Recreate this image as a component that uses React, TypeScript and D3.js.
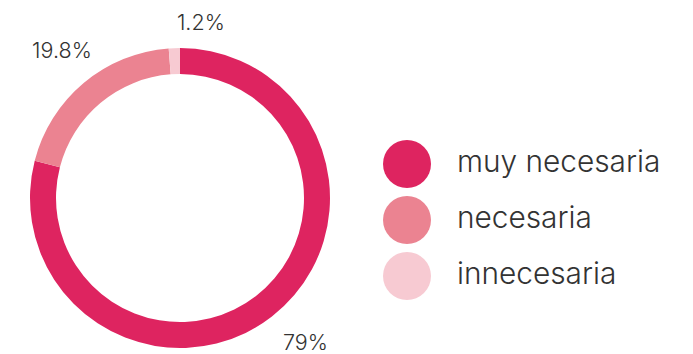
import React from "react";
import * as d3 from "d3";

const categories = ["muy necesaria", "necesaria", "innecesaria"];
const values = [79, 19.8, 1.2];
const valueLabels = ["79%", "19.8%", "1.2%"];
const colors = ["#DE2460", "#EB8391", "#F7CAD2"];

const W = 693;
const H = 354;
const cx = 180;
const cy = 198;
const outerR = 150;
const innerR = 124;
const labelR = 190;
// small layout nudges for the value labels (dx, dy)
const labelNudge: [number, number][] = [
  [9, -6],
  [4, -1.5],
  [28, 14],
];

export default function App() {
  const pie = d3
    .pie<number>()
    .sort(null)
    .value((d) => d)
    .startAngle(0)
    .endAngle(2 * Math.PI);
  const arcs = pie(values);
  const arc = d3.arc<d3.PieArcDatum<number>>().innerRadius(innerR).outerRadius(outerR);
  const labelArc = d3.arc<d3.PieArcDatum<number>>().innerRadius(labelR).outerRadius(labelR);

  const color = d3.scaleOrdinal<string, string>().domain(categories).range(colors);
  const legendY = d3.scalePoint<string>().domain(categories).range([164, 276]);

  const font = "Inter, 'Open Sans', sans-serif";

  return (
    <svg
      width={W}
      height={H}
      style={{ position: "absolute", left: 0, top: 0, background: "#fff" }}
    >
      <g transform={`translate(${cx},${cy})`}>
        {arcs.map((a, i) => (
          <path key={i} d={arc(a) || ""} fill={color(categories[i])} />
        ))}
        {arcs.map((a, i) => {
          const [x, y] = labelArc.centroid(a);
          return (
            <text
              key={"l" + i}
              x={x + labelNudge[i][0]}
              y={y + labelNudge[i][1]}
              dy="0.35em"
              textAnchor="middle"
              fontFamily={font}
              fontWeight={300}
              fontSize={21.5}
              fill="#333"
            >
              {valueLabels[i]}
            </text>
          );
        })}
      </g>
      {categories.map((c) => (
        <g key={c}>
          <circle cx={407} cy={legendY(c)} r={24} fill={color(c)} />
          <text
            x={457}
            y={(legendY(c) || 0) + 8}
            fontFamily={font}
            fontWeight={300}
            fontSize={29.8}
            fill="#333"
          >
            {c}
          </text>
        </g>
      ))}
    </svg>
  );
}
